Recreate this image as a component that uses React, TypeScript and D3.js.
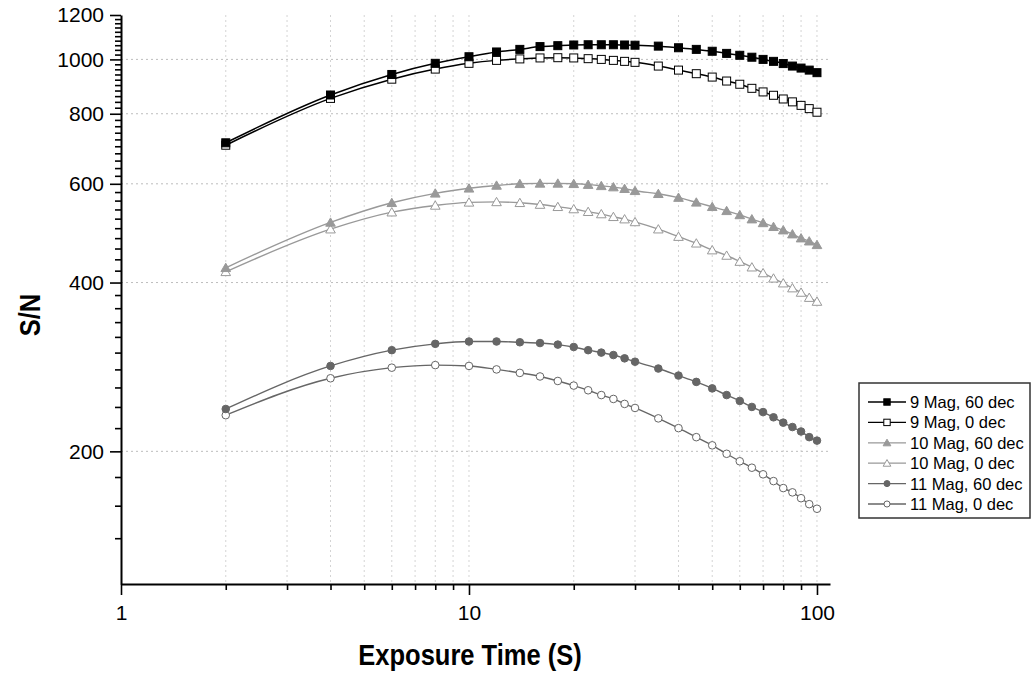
import { useEffect, useRef } from 'react';
import * as d3 from 'd3';

// exposure times (s)
const exposure = [2, 4, 6, 8, 10, 12, 14, 16, 18, 20, 22, 24, 26, 28, 30, 35, 40, 45, 50, 55, 60, 65, 70, 75, 80, 85, 90, 95, 100];

// S/N per series
const mag9dec60 = [710, 864, 940, 984, 1011, 1031, 1042, 1054, 1058, 1061, 1062, 1062, 1062, 1061, 1060, 1056, 1049, 1042, 1034, 1025, 1017, 1009, 1000, 992, 983, 973, 965, 957, 947];
const mag9dec0 = [703, 852, 922, 961, 984, 996, 1002, 1006, 1007, 1006, 1003, 1000, 996, 992, 988, 973, 957, 943, 930, 915, 903, 888, 875, 863, 850, 840, 828, 817, 805];
const mag10dec60 = [425, 512, 555, 577, 589, 596, 600, 601, 601, 600, 598, 595, 592, 588, 583, 576, 567, 556, 546, 537, 528, 519, 511, 503, 496, 488, 480, 474, 467];
const mag10dec0 = [418, 498, 534, 549, 556, 557, 555, 551, 546, 541, 535, 530, 524, 519, 513, 498, 483, 470, 457, 447, 436, 426, 416, 407, 399, 391, 384, 376, 370];
const mag11dec60 = [238, 284, 303, 311, 314, 314, 313, 312, 310, 307, 303, 300, 297, 293, 289, 281, 273, 266, 259, 252, 246, 240, 235, 230, 225, 221, 217, 212, 209];
const mag11dec0 = [232, 270, 282, 285, 284, 280, 276, 272, 267, 262, 257, 252, 248, 243, 239, 229, 220, 212, 205, 198, 192, 187, 182, 177, 172, 169, 165, 161, 158];

const seriesNames = ['9 Mag, 60 dec', '9 Mag, 0 dec', '10 Mag, 60 dec', '10 Mag, 0 dec', '11 Mag, 60 dec', '11 Mag, 0 dec'];

// axis ticks
const xMajor = [1, 10, 100];
const xMinor = [2, 3, 4, 5, 6, 7, 8, 9, 20, 30, 40, 50, 60, 70, 80, 90];
const yMajor = [200, 400, 600, 800, 1000, 1200];
const yMinor = d3.range(140, 1200, 20).filter((v) => !yMajor.includes(v));

const App = () => {
  const svgRef = useRef(null);

  useEffect(() => {
    const width = 1032;
    const height = 677;
    const font = "'Liberation Sans', Arial, sans-serif";

    const x = d3.scaleLog().domain([1, 109]).range([121, 830]);
    const y = d3.scaleLog().domain([116, 1200]).range([584, 15]);

    const svg = d3.select(svgRef.current);
    svg.selectAll('*').remove();
    svg.attr('width', width).attr('height', height).attr('viewBox', [0, 0, width, height]);

    svg.append('rect').attr('width', width).attr('height', height).attr('fill', '#fff');

    // grid lines
    svg
      .append('g')
      .attr('stroke', '#d4d4d4')
      .attr('stroke-width', 1)
      .attr('stroke-dasharray', '2,3')
      .selectAll('line')
      .data([...xMinor, 10, 100])
      .join('line')
      .attr('x1', (d) => x(d))
      .attr('x2', (d) => x(d))
      .attr('y1', y(1200))
      .attr('y2', y.range()[0]);
    svg
      .append('g')
      .attr('stroke', '#bdbdbd')
      .attr('stroke-width', 1)
      .attr('stroke-dasharray', '2,3')
      .selectAll('line')
      .data(yMajor.filter((v) => v < 1200))
      .join('line')
      .attr('x1', x(1))
      .attr('x2', x.range()[1])
      .attr('y1', (d) => y(d))
      .attr('y2', (d) => y(d));

    const series = [
      { name: seriesNames[0], values: mag9dec60, color: '#000', fill: '#000', shape: 'square', lw: 1.5 },
      { name: seriesNames[1], values: mag9dec0, color: '#000', fill: '#fff', shape: 'square', lw: 1.5 },
      { name: seriesNames[2], values: mag10dec60, color: '#999', fill: '#999', shape: 'triangle', lw: 1.4 },
      { name: seriesNames[3], values: mag10dec0, color: '#999', fill: '#fff', shape: 'triangle', lw: 1.4 },
      { name: seriesNames[4], values: mag11dec60, color: '#666', fill: '#666', shape: 'circle', lw: 1.4 },
      { name: seriesNames[5], values: mag11dec0, color: '#666', fill: '#fff', shape: 'circle', lw: 1.4 },
    ];

    const line = d3
      .line()
      .x((d) => x(d[0]))
      .y((d) => y(d[1]))
      .curve(d3.curveMonotoneX);

    const drawMarker = (g, s, cx, cy, k = 1) => {
      if (s.shape === 'square') {
        g.append('rect')
          .attr('x', cx - 4 * k)
          .attr('y', cy - 4 * k)
          .attr('width', 8 * k)
          .attr('height', 8 * k)
          .attr('fill', s.fill)
          .attr('stroke', s.color)
          .attr('stroke-width', 1);
      } else if (s.shape === 'triangle') {
        g.append('path')
          .attr('d', d3.symbol(d3.symbolTriangle, 40 * k * k)())
          .attr('transform', `translate(${cx},${cy + k})`)
          .attr('fill', s.fill)
          .attr('stroke', s.color)
          .attr('stroke-width', 1);
      } else {
        g.append('circle')
          .attr('cx', cx)
          .attr('cy', cy)
          .attr('r', 3.8 * k)
          .attr('fill', s.fill)
          .attr('stroke', s.color)
          .attr('stroke-width', 1);
      }
    };

    // draw back to front so the black series sit on top
    [...series].reverse().forEach((s) => {
      const pts = exposure.map((t, i) => [t, s.values[i]]);
      const g = svg.append('g');
      g.append('path')
        .attr('d', line(pts))
        .attr('fill', 'none')
        .attr('stroke', s.color)
        .attr('stroke-width', s.lw);
      pts.forEach((p) => drawMarker(g, s, x(p[0]), y(p[1])));
    });

    // y axis
    svg
      .append('g')
      .attr('transform', `translate(${x(1)},0)`)
      .call(d3.axisLeft(y).tickValues(yMinor).tickSize(6).tickFormat(() => ''))
      .call((g) => g.select('.domain').remove())
      .call((g) => g.selectAll('line').attr('stroke-width', 1.6));
    svg
      .append('g')
      .attr('transform', `translate(${x(1)},0)`)
      .call(d3.axisLeft(y).tickValues(yMajor).tickSize(11).tickSizeOuter(0).tickPadding(6).tickFormat(d3.format('d')))
      .call((g) => g.select('.domain').attr('stroke-width', 2))
      .call((g) => g.selectAll('line').attr('stroke-width', 1.6))
      .call((g) => g.selectAll('text').attr('font-family', font).attr('font-size', 21).attr('fill', '#000'));

    // x axis
    svg
      .append('g')
      .attr('transform', `translate(0,${y.range()[0]})`)
      .call(d3.axisBottom(x).tickValues(xMinor).tickSize(6).tickFormat(() => ''))
      .call((g) => g.select('.domain').remove())
      .call((g) => g.selectAll('line').attr('stroke-width', 1.6));
    svg
      .append('g')
      .attr('transform', `translate(0,${y.range()[0]})`)
      .call(d3.axisBottom(x).tickValues(xMajor).tickSize(11).tickSizeOuter(0).tickPadding(10).tickFormat(d3.format('d')))
      .call((g) => g.select('.domain').attr('stroke-width', 2))
      .call((g) => g.selectAll('line').attr('stroke-width', 1.6))
      .call((g) => g.selectAll('text').attr('font-family', font).attr('font-size', 21).attr('fill', '#000'));

    // axis titles (condensed bold look)
    svg
      .append('text')
      .attr('transform', 'translate(40,315) rotate(-90) scale(0.88,1)')
      .attr('text-anchor', 'middle')
      .attr('font-family', font)
      .attr('font-weight', 'bold')
      .attr('font-size', 29)
      .text('S/N');
    svg
      .append('text')
      .attr('transform', 'translate(470,665) scale(0.88,1)')
      .attr('text-anchor', 'middle')
      .attr('font-family', font)
      .attr('font-weight', 'bold')
      .attr('font-size', 29)
      .text('Exposure Time (S)');

    // legend
    const legend = svg.append('g').attr('transform', 'translate(859,383)');
    legend
      .append('rect')
      .attr('width', 171)
      .attr('height', 135)
      .attr('fill', '#fff')
      .attr('stroke', '#333')
      .attr('stroke-width', 1.5);
    series.forEach((s, i) => {
      const cy = 19 + i * 20.4;
      const row = legend.append('g');
      row.append('line')
        .attr('x1', 9)
        .attr('x2', 47)
        .attr('y1', cy)
        .attr('y2', cy)
        .attr('stroke', s.color)
        .attr('stroke-width', 1.3);
      drawMarker(row, s, 28, cy, 0.8);
      row.append('text')
        .attr('x', 51)
        .attr('y', cy + 6)
        .attr('font-family', font)
        .attr('font-size', 16.5)
        .attr('fill', '#000')
        .text(s.name);
    });
  }, []);

  return (
    <svg ref={svgRef} style={{ position: 'absolute', left: 0, top: 0, display: 'block' }}></svg>
  );
};

export default App;
